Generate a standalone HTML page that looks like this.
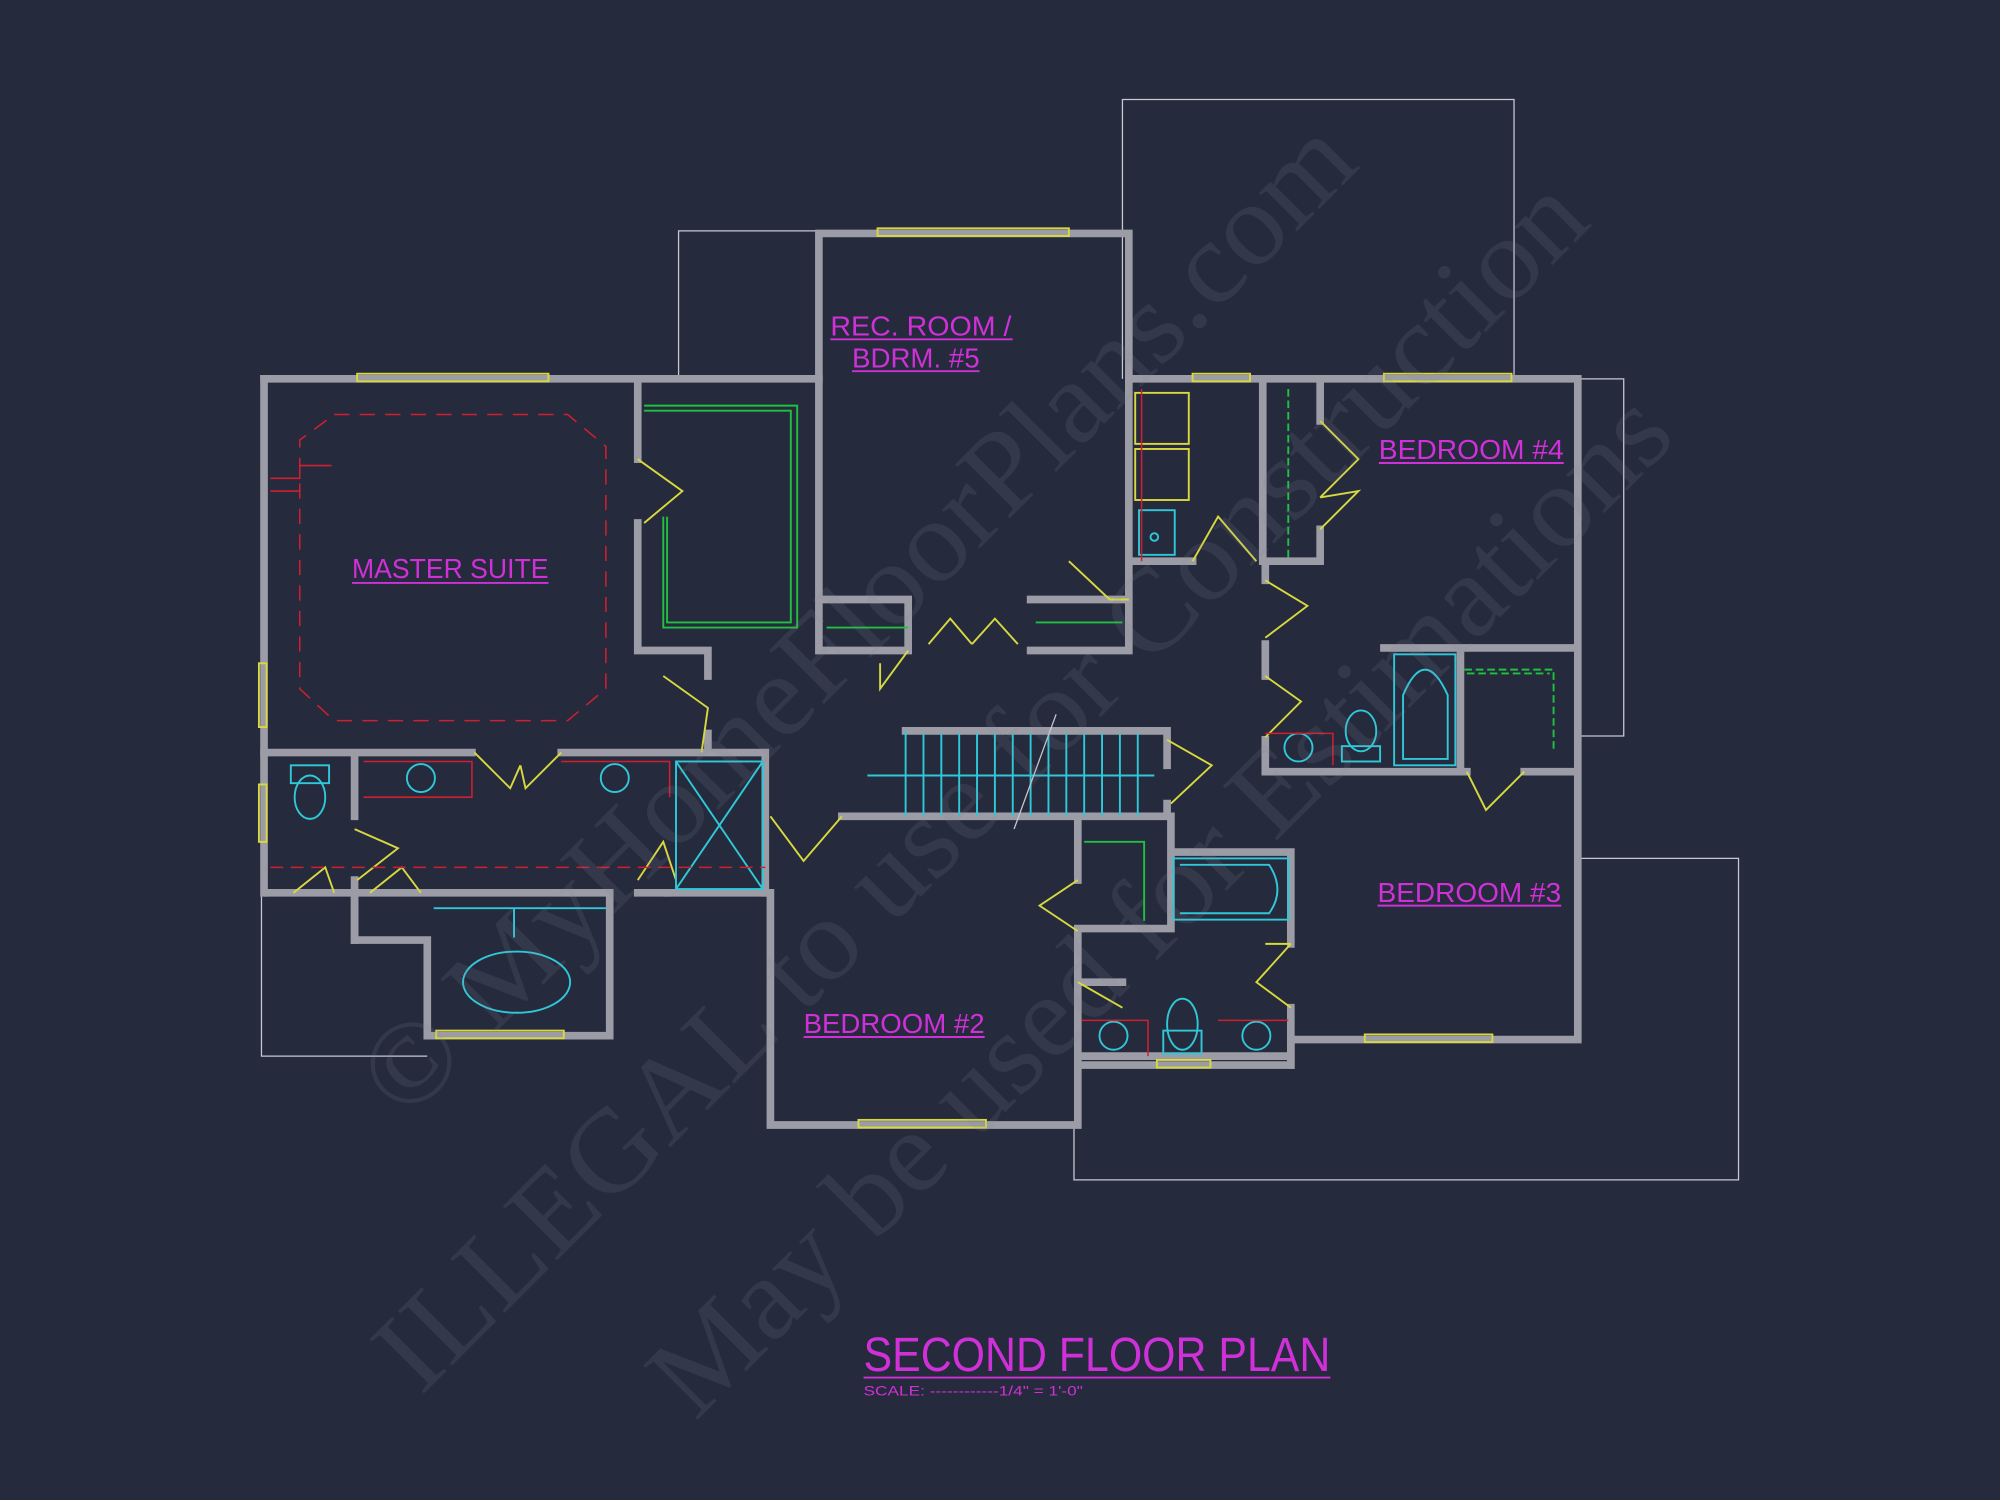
<!DOCTYPE html>
<html><head><meta charset="utf-8"><style>
html,body{margin:0;padding:0;background:#252a3c;}
svg{display:block}
.w{stroke:#9c9ca6;stroke-width:6;fill:none;stroke-linecap:square}
.t{stroke:#c8c8d0;stroke-width:1;fill:none}
.y{stroke:#d8d840;stroke-width:1.5;fill:none}
.c{stroke:#30c8d8;stroke-width:1.5;fill:none}
.g{stroke:#20c040;stroke-width:1.5;fill:none}
.r{stroke:#d02030;stroke-width:1.2;fill:none}
.lbl{fill:#d030d8;font-family:"Liberation Sans",sans-serif;font-size:22px}
.wm{fill:#8a8e9e;opacity:0.14;font-family:"Liberation Serif",serif;font-size:92px}
</style></head><body>
<svg width="2000" height="1500" viewBox="0 0 1568 1176" xmlns="http://www.w3.org/2000/svg">
<rect width="1568" height="1176" fill="#252a3c"/>
<path class="t" d="M532,297 V181 H642 M880,297 V78 H1187 V297 M1237,297 H1273 V577 H1237 M1237,673 H1363 V925 H842 V882 M205,700 V828 H335"/>
<path class="w" d="M207,297 H642 V183 H885 V297 H1237 V815 H1012 V835 H845 V882 H604 V700 H523 M478,700 V812 H335 V737 H278 V700 H207 Z"/>
<path class="w" d="M207,297 V700"/>
<path class="w" d="M500,297 V360 M500,410 V510 H555 V530 M642,297 V510 H712 M642,470 H712 V510 M808,510 H885 V440 H935 M808,470 H885 M885,297 V440"/>
<path class="w" d="M990,297 V440 H1035 V415 M1035,297 V330 M992,440 V455 M992,505 V530 M992,580 V605 H1150 M1195,605 H1235 M1085,508 H1235 M1145,508 V605"/>
<path class="w" d="M207,590 H370 M440,590 H555 V575 M523,590 H600 V700 M278,590 V640 M278,690 V737 M500,700 H523"/>
<path class="w" d="M710,573 H915 V600 M660,640 H915 V630 M845,640 V690 M845,730 V770 H880 M918,640 V728 H845 M918,668 H1012 V740 M1012,790 V835 M845,770 V835 M845,828 H1012"/>
<g class="y">
<rect x="280" y="293" width="150" height="6"/><rect x="688" y="179" width="150" height="6"/>
<rect x="935" y="293" width="45" height="6"/><rect x="1085" y="293" width="100" height="6"/>
<rect x="203" y="520" width="6" height="50"/><rect x="203" y="615" width="6" height="45"/>
<rect x="342" y="808" width="100" height="6"/><rect x="673" y="878" width="100" height="6"/>
<rect x="1070" y="811" width="100" height="6"/><rect x="907" y="831" width="42" height="6"/>
</g>
<g class="y">
<path d="M500,360 L535,385 L505,410 M520,530 L555,555 L550,590 M372,590 L400,618 L408,600 M440,590 L412,618 L408,600"/>
<path d="M712,510 L690,540 L690,520 M728,505 L745,485 L762,505 M762,505 L780,485 L798,505 M838,440 L870,470 L885,470"/>
<path d="M935,440 L955,405 L985,440 M992,455 L1025,475 L992,500 M992,530 L1020,550 L992,578 M1035,330 L1065,360 L1035,390 M1035,390 L1065,385 L1035,415"/>
<path d="M915,580 L950,600 L918,630 M1150,605 L1165,635 L1195,605 M992,740 L1012,740 M1012,740 L985,770 L1012,790 M845,690 L815,710 L845,730 M845,770 L880,790"/>
<path d="M604,640 L630,675 L660,640 M278,650 L312,665 L280,690 M290,700 L315,680 L330,700 M230,700 L255,680 L262,700 M500,690 L520,660 L530,690"/>
</g>
<path class="r" stroke-dasharray="12,8" d="M262,325 H445 L475,350 V540 L445,565 H262 L235,540 V345 Z"/>
<path class="r" d="M212,375 H235 V365 H260 M212,385 H235"/>
<path class="g" d="M505,318 H625 V492 H520 V405 M505,322 H620 V488 H523 V405"/>
<path class="g" d="M1010,305 V440 M1148,525 H1218 V590 M1150,528 H1215" stroke-dasharray="6,3"/>
<path class="g" d="M850,660 H897 V722 M648,492 H712 M812,488 H880"/>
<g class="c">
<ellipse cx="243" cy="625" rx="12" ry="17"/><rect x="228" y="600" width="30" height="14"/>
<ellipse cx="330" cy="610" rx="11" ry="11"/><ellipse cx="482" cy="610" rx="11" ry="11"/>
<ellipse cx="405" cy="770" rx="42" ry="24"/><path d="M340,712 H475 M403,712 V735"/>
<rect x="530" y="597" width="68" height="100"/><path d="M530,597 L598,697 M598,597 L530,697"/>
<ellipse cx="1018" cy="586" rx="11" ry="11"/><ellipse cx="1067" cy="573" rx="12" ry="16"/><rect x="1052" y="585" width="30" height="12"/>
<rect x="1093" y="513" width="48" height="87"/><path d="M1100,545 Q1117,505 1135,545 V595 H1100 Z"/>
<rect x="920" y="673" width="90" height="48"/><path d="M925,678 H995 Q1008,698 995,716 H925"/>
<ellipse cx="873" cy="812" rx="11" ry="11"/><ellipse cx="985" cy="812" rx="11" ry="11"/>
<ellipse cx="927" cy="803" rx="12" ry="20"/><rect x="912" y="808" width="30" height="18"/>
<ellipse cx="905" cy="421" rx="3" ry="3"/>
<path d="M710,573 V640 M680,608 H905"/>
<path d="M724,575 V640 M738,575 V640 M752,575 V640 M766,575 V640 M780,575 V640 M794,575 V640 M808,575 V640 M822,575 V640 M836,575 V640 M850,575 V640 M864,575 V640 M878,575 V640 M892,575 V640"/>
</g>
<path class="t" d="M828,560 L795,650"/>
<rect x="890" y="308" width="42" height="40" class="y"/><rect x="890" y="352" width="42" height="40" class="y"/>
<rect x="893" y="400" width="28" height="35" class="c"/>
<path class="r" d="M895,305 V440 M285,597 H370 V625 H285 M440,597 H525 V625 M992,575 H1045 V600 M848,800 H900 V828 M955,800 H1010"/>
<path class="r" stroke-dasharray="10,6" d="M212,680 H600"/>
<text class="wm" transform="translate(318,880) rotate(-45)" textLength="1060" lengthAdjust="spacingAndGlyphs">© MyHomeFloorPlans.com</text>
<text class="wm" transform="translate(330,1095) rotate(-45)" textLength="1300" lengthAdjust="spacingAndGlyphs">ILLEGAL to use for Construction</text>
<text class="wm" transform="translate(545,1115) rotate(-45)" textLength="1090" lengthAdjust="spacingAndGlyphs">May be used for Estimations</text>
<g class="lbl">
<text x="276" y="453" textLength="154" lengthAdjust="spacingAndGlyphs">MASTER SUITE</text>
<text x="651" y="263" textLength="142" lengthAdjust="spacingAndGlyphs">REC. ROOM /</text>
<text x="668" y="288" textLength="100" lengthAdjust="spacingAndGlyphs">BDRM. #5</text>
<text x="1081" y="360" textLength="145" lengthAdjust="spacingAndGlyphs">BEDROOM #4</text>
<text x="1080" y="707" textLength="144" lengthAdjust="spacingAndGlyphs">BEDROOM #3</text>
<text x="630" y="810" textLength="142" lengthAdjust="spacingAndGlyphs">BEDROOM #2</text>
<text x="677" y="1075" font-size="38" textLength="366" lengthAdjust="spacingAndGlyphs">SECOND FLOOR PLAN</text>
<text x="677" y="1094" font-size="11" textLength="172" lengthAdjust="spacingAndGlyphs">SCALE: ------------1/4" = 1'-0"</text>
</g>
<path stroke="#d030d8" stroke-width="1.5" d="M276,457 H430 M651,266 H794 M668,291 H768 M1081,363 H1226 M1080,710 H1224 M630,813 H772 M677,1080 H1043"/>
</svg>
</body></html>
